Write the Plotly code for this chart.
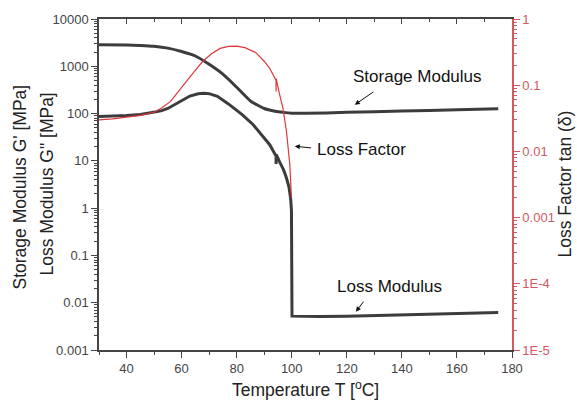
import plotly.graph_objects as go

# ---------------- data ----------------
T_storage = [30, 40, 45, 50, 55, 60, 65, 70, 75, 80, 85, 90, 94, 97, 100, 105, 120, 140, 160, 175]
G_storage = [2850, 2820, 2760, 2650, 2420, 2050, 1650, 1100, 680, 360, 185, 128, 112, 106, 102, 101, 106, 113, 120, 126]

T_loss = [30, 35, 40, 45, 50, 52.5, 55, 57.5, 60, 63, 66, 68, 70, 73, 77, 82, 86, 89, 92, 94.3, 94.32, 94.34,
          95.6, 97, 98, 99, 99.6, 99.9, 100.1, 110, 120, 130, 140, 150, 160, 175]
G_loss = [87, 88, 91, 96, 106, 114, 128, 155, 190, 235, 262, 270, 264, 232, 160, 95, 58, 36, 22, 12.6, 8.6, 13.7,
          9.5, 6.5, 4.5, 2.8, 1.6, 0.9, 0.0052, 0.0051, 0.0052, 0.0054, 0.0056, 0.0058, 0.006, 0.0062]

T_tan = [30, 35, 40, 45, 50, 53, 56, 58, 61, 64, 67.7, 71, 74, 77, 80, 83, 87, 90, 92, 94.3, 94.32, 94.34,
         95.5, 96.8, 98.1, 99.3, 99.9]
tan_d = [0.030, 0.031, 0.033, 0.035, 0.039, 0.046, 0.057, 0.073, 0.105, 0.15, 0.23, 0.30, 0.36, 0.385, 0.39,
         0.37, 0.31, 0.23, 0.18, 0.118, 0.080, 0.126, 0.075, 0.045, 0.020, 0.0063, 0.002]

left_tickvals = [0.001, 0.01, 0.1, 1, 10, 100, 1000, 10000]
left_ticktext = ["0.001", "0.01", "0.1", "1", "10", "100", "1000", "10000"]
right_tickvals = [1e-5, 1e-4, 1e-3, 1e-2, 1e-1, 1]
right_ticktext = ["1E-5", "1E-4", "0.001", "0.01", "0.1", "1"]

# ---------------- styling ----------------
FONT = "Liberation Sans, Arial, sans-serif"
DARK = "#3c3c3c"
AXC = "#444444"
RED_AX = "#d3585f"
RED_LINE = "#e0363a"

L, R, TOP, BOT = 99, 512, 16, 350
W, H = 577, 406


def px(xp):
    return (xp - L) / (R - L)


def py(yp):
    return (BOT - yp) / (BOT - TOP)


def log_minor(lo, hi):
    return [m * 10 ** k for k in range(lo, hi) for m in range(2, 10)]


fig = go.Figure()
fig.add_trace(go.Scatter(x=T_storage, y=G_storage, mode="lines",
                         line=dict(color=DARK, width=3, shape="spline", smoothing=0.5),
                         name="Storage Modulus", showlegend=False))
fig.add_trace(go.Scatter(x=T_loss, y=G_loss, mode="lines", line=dict(color=DARK, width=3),
                         name="Loss Modulus", showlegend=False))
fig.add_trace(go.Scatter(x=T_tan, y=tan_d, mode="lines", line=dict(color=RED_LINE, width=1.2),
                         name="Loss Factor", yaxis="y2", showlegend=False))
fig.add_trace(go.Scatter(x=[], y=[], xaxis="x3", yaxis="y", showlegend=False))

fig.update_layout(
    width=W, height=H,
    margin=dict(l=L, r=W - R, t=TOP, b=H - BOT),
    paper_bgcolor="white", plot_bgcolor="white",
    font=dict(family=FONT, size=13, color=AXC),
    xaxis=dict(range=[30, 180], showgrid=False, zeroline=False, showline=True, linecolor=AXC, linewidth=1.5,
               ticks="outside", ticklen=6, tickwidth=1.2, tickcolor=AXC, tick0=40, dtick=20,
               minor=dict(ticks="outside", ticklen=3, tickcolor=AXC, tick0=30, dtick=10),
               tickfont=dict(size=13, color=AXC)),
    xaxis3=dict(range=[30, 180], overlaying="x", side="top", anchor="y", showgrid=False, zeroline=False,
                showline=True, linecolor=AXC, linewidth=1.5, ticks="inside", ticklen=5, tickcolor=AXC,
                tick0=40, dtick=20, showticklabels=False,
                minor=dict(ticks="inside", ticklen=3, tickcolor=AXC, tick0=30, dtick=10)),
    yaxis=dict(type="log", range=[-3, 4], showgrid=False, zeroline=False, showline=True, linecolor=AXC,
               linewidth=1.5, ticks="outside", ticklen=6, tickwidth=1.2, tickcolor=AXC,
               tickmode="array", tickvals=left_tickvals, ticktext=left_ticktext,
               minor=dict(ticks="outside", ticklen=3, tickcolor=AXC, tickmode="array", tickvals=log_minor(-3, 4)),
               tickfont=dict(size=13, color=AXC)),
    yaxis2=dict(type="log", range=[-5, 0], overlaying="y", side="right", anchor="x", showgrid=False,
                zeroline=False, showline=True, linecolor=RED_AX, linewidth=1.5, ticks="outside", ticklen=6,
                tickwidth=1.2, tickcolor=RED_AX, tickmode="array", tickvals=right_tickvals,
                ticktext=right_ticktext,
                minor=dict(ticks="outside", ticklen=3, tickcolor=RED_AX, tickmode="array", tickvals=log_minor(-5, 0)),
                tickfont=dict(size=13, color=RED_AX)),
)

TF = dict(size=17.5, color="#222")
LF = dict(size=17, color="#111")
annots = [
    # axis titles
    dict(text="Temperature T [<sup>o</sup>C]", xref="paper", yref="paper", x=px(305), y=py(389),
         xanchor="center", yanchor="middle", showarrow=False, font=TF),
    dict(text="Storage Modulus G' [MPa]", xref="paper", yref="paper", x=px(20), y=py(186), textangle=-90,
         xanchor="center", yanchor="middle", showarrow=False, font=TF),
    dict(text='Loss Modulus G" [MPa]', xref="paper", yref="paper", x=px(47), y=py(182), textangle=-90,
         xanchor="center", yanchor="middle", showarrow=False, font=TF),
    dict(text="Loss Factor tan (\u03b4)", xref="paper", yref="paper", x=px(564), y=py(183), textangle=-90,
         xanchor="center", yanchor="middle", showarrow=False, font=TF),
    # curve labels
    dict(text="Storage Modulus", x=145.6, y=2.78, xref="x", yref="y", showarrow=False,
         xanchor="center", yanchor="middle", font=LF),
    dict(text="", x=122.9, y=2.187, ax=130.2, ay=2.48, xref="x", yref="y", axref="x", ayref="y",
         showarrow=True, arrowhead=2, arrowsize=1, arrowwidth=1, arrowcolor="#111"),
    dict(text="Loss Factor", x=125.3, y=1.25, xref="x", yref="y", showarrow=False,
         xanchor="center", yanchor="middle", font=LF),
    dict(text="", x=101.1, y=1.31, ax=107.6, ay=1.27, xref="x", yref="y", axref="x", ayref="y",
         showarrow=True, arrowhead=2, arrowsize=1, arrowwidth=1, arrowcolor="#111"),
    dict(text="Loss Modulus", x=135.6, y=-1.65, xref="x", yref="y", showarrow=False,
         xanchor="center", yanchor="middle", font=LF),
    dict(text="", x=123.3, y=-2.19, ax=126.5, ay=-1.945, xref="x", yref="y", axref="x", ayref="y",
         showarrow=True, arrowhead=2, arrowsize=1, arrowwidth=1, arrowcolor="#111"),
]
fig.update_layout(annotations=annots)

fig.write_html("out.html")
